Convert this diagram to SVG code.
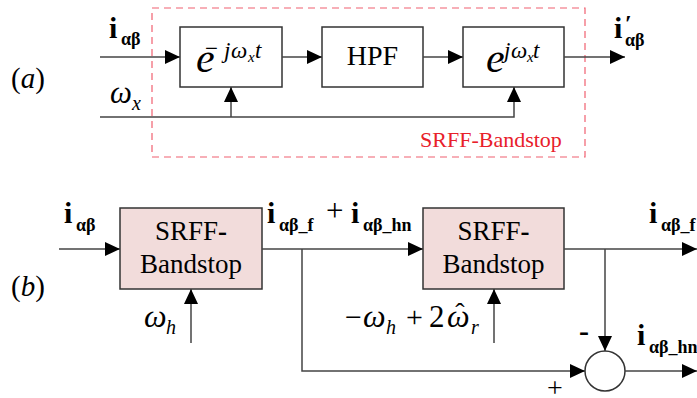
<svg xmlns="http://www.w3.org/2000/svg" width="697" height="398" viewBox="0 0 697 398">
<defs>
<marker id="ah" markerUnits="userSpaceOnUse" markerWidth="15" markerHeight="14" refX="15" refY="7" orient="auto">
<path d="M0,0 L15,7 L0,14 z" fill="#000"/>
</marker>
</defs>

<g id="bandstop-frame">
<rect x="152" y="8" width="433" height="149" fill="none" stroke="#f06070" stroke-width="1.2" stroke-dasharray="7,5"/>
<text font-family="Liberation Serif" fill="#e8202a" x="420" y="147" font-size="22">SRFF-Bandstop</text>
</g>
<g id="label-a"><text font-family="Liberation Serif" x="11" y="88" font-size="29">(<tspan font-style="italic">a</tspan>)</text></g>
<g id="a-in-i"><text font-family="Liberation Serif" x="109" y="38" font-size="30" font-weight="bold">i</text><text font-family="Liberation Serif" x="121" y="45" font-size="18" font-weight="bold">αβ</text></g>
<g id="a-in-w"><text font-family="Liberation Serif" x="110" y="103" font-size="31" font-style="italic">ω</text><text font-family="Liberation Serif" x="132" y="110" font-size="20" font-style="italic">x</text></g>
<g id="a-out-i"><text font-family="Liberation Serif" x="614" y="38" font-size="30" font-weight="bold">i</text><text font-family="Liberation Serif" x="625" y="31" font-size="24" font-weight="bold">′</text><text font-family="Liberation Serif" x="625" y="46" font-size="18" font-weight="bold">αβ</text></g>

<g id="demod">
<rect fill="#fff" stroke="#333" stroke-width="1.5" x="180" y="27" width="102" height="60"/>
<text font-family="Liberation Serif" x="196" y="72" font-size="42" font-style="italic">e</text>
<text font-family="Liberation Serif" x="205" y="56" font-size="23">−</text>
<text font-family="Liberation Serif" x="224" y="58" font-size="23" font-style="italic">j</text>
<text font-family="Liberation Serif" x="231" y="58" font-size="23" font-style="italic">ω</text>
<text font-family="Liberation Serif" x="248" y="62" font-size="15" font-style="italic">x</text>
<text font-family="Liberation Serif" x="255" y="58" font-size="23" font-style="italic">t</text>
</g>
<g id="hpf">
<rect fill="#fff" stroke="#333" stroke-width="1.5" x="322" y="27" width="101" height="60"/>
<text font-family="Liberation Serif" x="372.5" y="65" font-size="28" text-anchor="middle">HPF</text>
</g>
<g id="mod">
<rect fill="#fff" stroke="#333" stroke-width="1.5" x="463" y="27" width="101" height="60"/>
<text font-family="Liberation Serif" x="486" y="72" font-size="42" font-style="italic">e</text>
<text font-family="Liberation Serif" x="504" y="58" font-size="23" font-style="italic">j</text>
<text font-family="Liberation Serif" x="511" y="58" font-size="23" font-style="italic">ω</text>
<text font-family="Liberation Serif" x="527" y="62" font-size="15" font-style="italic">x</text>
<text font-family="Liberation Serif" x="533" y="58" font-size="23" font-style="italic">t</text>
</g>

<g id="label-b"><text font-family="Liberation Serif" x="11" y="296" font-size="29">(<tspan font-style="italic">b</tspan>)</text></g>
<g id="b-in-i"><text font-family="Liberation Serif" x="64" y="223" font-size="30" font-weight="bold">i</text><text font-family="Liberation Serif" x="76" y="231" font-size="18" font-weight="bold">αβ</text></g>
<g id="srff1">
<rect fill="#f2dcdb" stroke="#333" stroke-width="1.5" x="120" y="208" width="142" height="81"/>
<text font-family="Liberation Serif" x="191" y="240" font-size="27" text-anchor="middle">SRFF<tspan font-weight="bold">-</tspan></text>
<text font-family="Liberation Serif" x="191" y="273" font-size="27" text-anchor="middle">Bandstop</text>
</g>
<g id="b-w1"><text font-family="Liberation Serif" x="144" y="327" font-size="32" font-style="italic">ω</text><text font-family="Liberation Serif" x="166" y="334" font-size="20" font-style="italic">h</text></g>
<g id="mid-label">
<text font-family="Liberation Serif" x="267" y="223" font-size="30" font-weight="bold">i</text><text font-family="Liberation Serif" x="279" y="231" font-size="18" font-weight="bold">αβ_f</text>
<text font-family="Liberation Serif" x="326" y="221" font-size="31">+</text>
<text font-family="Liberation Serif" x="351" y="223" font-size="30" font-weight="bold">i</text><text font-family="Liberation Serif" x="363" y="231" font-size="18" font-weight="bold">αβ_hn</text>
</g>
<g id="srff2">
<rect fill="#f2dcdb" stroke="#333" stroke-width="1.5" x="423" y="208" width="141" height="81"/>
<text font-family="Liberation Serif" x="493.5" y="240" font-size="27" text-anchor="middle">SRFF<tspan font-weight="bold">-</tspan></text>
<text font-family="Liberation Serif" x="493.5" y="273" font-size="27" text-anchor="middle">Bandstop</text>
</g>
<g id="b-w2">
<text font-family="Liberation Serif" x="345" y="327" font-size="30">−</text>
<text font-family="Liberation Serif" x="363" y="327" font-size="32" font-style="italic">ω</text>
<text font-family="Liberation Serif" x="386" y="334" font-size="20" font-style="italic">h</text>
<text font-family="Liberation Serif" x="406" y="327" font-size="30">+</text>
<text font-family="Liberation Serif" x="429" y="327" font-size="31">2</text>
<text font-family="Liberation Serif" x="447" y="327" font-size="32" font-style="italic">ω</text>
<text font-family="Liberation Serif" x="460" y="322" font-size="28" text-anchor="middle">ˆ</text>
<text font-family="Liberation Serif" x="471" y="334" font-size="20" font-style="italic">r</text>
</g>
<g id="sum">
<circle cx="605" cy="371" r="20" fill="#fff" stroke="#333" stroke-width="1.5"/>
<text font-family="Liberation Serif" x="579" y="341" font-size="30" font-weight="bold">-</text>
<text font-family="Liberation Serif" x="547" y="397" font-size="28">+</text>
</g>
<g id="out-f"><text font-family="Liberation Serif" x="649" y="223" font-size="30" font-weight="bold">i</text><text font-family="Liberation Serif" x="661" y="231" font-size="18" font-weight="bold">αβ_f</text></g>
<g id="out-hn"><text font-family="Liberation Serif" x="637" y="345" font-size="30" font-weight="bold">i</text><text font-family="Liberation Serif" x="649" y="353" font-size="18" font-weight="bold">αβ_hn</text></g>

<g id="connectors" fill="none" stroke="#444" stroke-width="1.5" marker-end="url(#ah)">
<path d="M100,57 H180"/>
<path d="M282,57 H322"/>
<path d="M423,57 H463"/>
<path d="M564,57 H625"/>
<path d="M100,117 H514 V87"/>
<path d="M231,117 V87"/>
<path d="M59,249 H120"/>
<path d="M262,249 H423"/>
<path d="M302,249 V371 H585"/>
<path d="M564,249 H697"/>
<path d="M605,249 V351"/>
<path d="M625,371 H697"/>
<path d="M191,343 V289"/>
<path d="M494,343 V289"/>
</g>
</svg>
